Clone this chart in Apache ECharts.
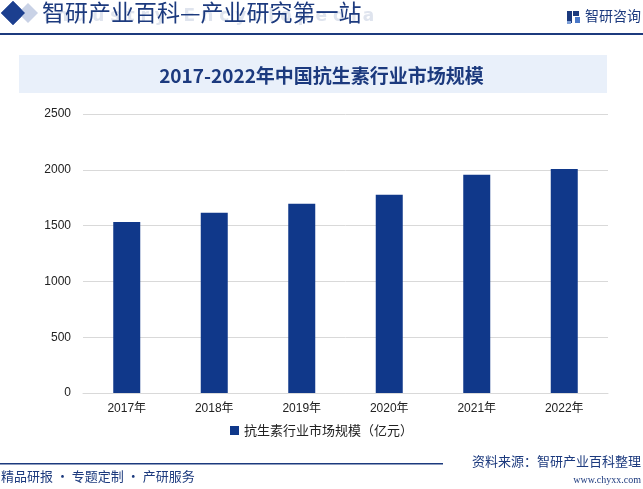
<!DOCTYPE html>
<html>
<head>
<meta charset="utf-8">
<script src="https://cdn.jsdelivr.net/npm/echarts@6/dist/echarts.min.js"></script>
<style>
  html, body { margin: 0; padding: 0; background: #fff; }
  #chart { width: 643px; height: 489px; }
</style>
</head>
<body>
<div id="chart"></div>
<script>
// 年份与市场规模（亿元）
const years = ['2017年', '2018年', '2019年', '2020年', '2021年', '2022年']
const marketSize = [1532, 1616, 1696, 1777, 1956, 2007]
const seriesName = '抗生素行业市场规模（亿元）'
const chartTitle = '2017-2022年中国抗生素行业市场规模'

const navy = '#10388a'
const cjk = '"Noto Sans CJK SC", "Noto Sans", sans-serif'

const chart = echarts.init(document.getElementById('chart'))

const option = {
  backgroundColor: '#fff',
  animation: false,
  title: {
    text: chartTitle,
    left: 'center',
    top: 61,
    textStyle: { color: '#1c3a7e', fontSize: 19, fontWeight: 'bold', fontFamily: cjk }
  },
  grid: { left: 83, right: 35, top: 114, bottom: 96 },
  legend: {
    bottom: 47,
    left: 'center',
    itemWidth: 9,
    itemHeight: 9,
    icon: 'rect',
    itemGap: 4,
    textStyle: { color: '#222', fontSize: 13, fontFamily: cjk }
  },
  xAxis: {
    type: 'category',
    data: years,
    axisTick: { show: false },
    axisLine: { lineStyle: { color: '#d9d9d9' } },
    axisLabel: { color: '#222', fontSize: 12, margin: 10, fontFamily: 'Arial, "Liberation Sans", ' + cjk }
  },
  yAxis: {
    type: 'value',
    min: 0,
    max: 2500,
    interval: 500,
    axisLine: { show: false },
    axisTick: { show: false },
    axisLabel: {
      color: '#222', fontSize: 12, margin: 12,
      fontFamily: 'Arial, "Liberation Sans", sans-serif',
      formatter: v => String(v)
    },
    splitLine: { lineStyle: { color: '#d9d9d9' } }
  },
  series: [{
    name: seriesName,
    type: 'bar',
    data: marketSize,
    barWidth: 27,
    itemStyle: { color: navy }
  }],
  graphic: [
    // 顶部标识
    { type: 'text', left: 44, top: 8, style: { text: 'I n d u s t r y   E n c y c l o p e d i a', fill: '#dfe4ee', font: 'bold 17px "DejaVu Sans", sans-serif' } },
    { type: 'polygon', shape: { points: [[1, 13], [13, 1], [25, 13], [13, 25]] }, style: { fill: '#1c3f8f' } },
    { type: 'polygon', shape: { points: [[18, 13], [28, 3], [38, 13], [28, 23]] }, style: { fill: '#c9d2e6' } },
    { type: 'polygon', shape: { points: [[1, 13], [13, 1], [25, 13], [13, 25]] }, style: { fill: '#1c3f8f' } },
    { type: 'text', left: 42, top: 1, style: { text: '智研产业百科—产业研究第一站', fill: '#1c3a7e', font: '23px ' + cjk } },
    { type: 'rect', shape: { x: 0, y: 33, width: 643, height: 2 }, style: { fill: '#1c3a7e' } },
    // 右上角logo
    { type: 'rect', shape: { x: 567, y: 11, width: 5, height: 12 }, style: { fill: '#1c3a7e' } },
    { type: 'rect', shape: { x: 573, y: 11, width: 6, height: 5 }, style: { fill: '#1c3a7e' } },
    { type: 'rect', shape: { x: 575, y: 17, width: 5, height: 6 }, style: { fill: '#4a78c8' } },
    { type: 'rect', shape: { x: 567, y: 21, width: 4, height: 3 }, style: { fill: '#7fa0d8' } },
    { type: 'text', left: 585, top: 9, style: { text: '智研咨询', fill: '#1c3a7e', font: '14px ' + cjk } },
    // 标题底框
    { type: 'rect', z: -1, shape: { x: 19, y: 55, width: 588, height: 38 }, style: { fill: '#e9f0fa' } },
    // 底部
    { type: 'rect', shape: { x: 0, y: 463, width: 443, height: 1.5 }, style: { fill: '#1c3a7e' } },
    { type: 'text', left: 1, top: 470, style: { text: '精品研报 · 专题定制 · 产研服务', fill: '#1c3a7e', font: '13px ' + cjk } },
    { type: 'text', right: 2, top: 455, style: { text: '资料来源：智研产业百科整理', fill: '#1c3a7e', font: '13px ' + cjk } },
    { type: 'text', right: 2, top: 475, style: { text: 'www.chyxx.com', fill: '#1c3a7e', font: '10px "Liberation Serif", serif' } }
  ]
}

chart.setOption(option)
</script>
</body>
</html>
